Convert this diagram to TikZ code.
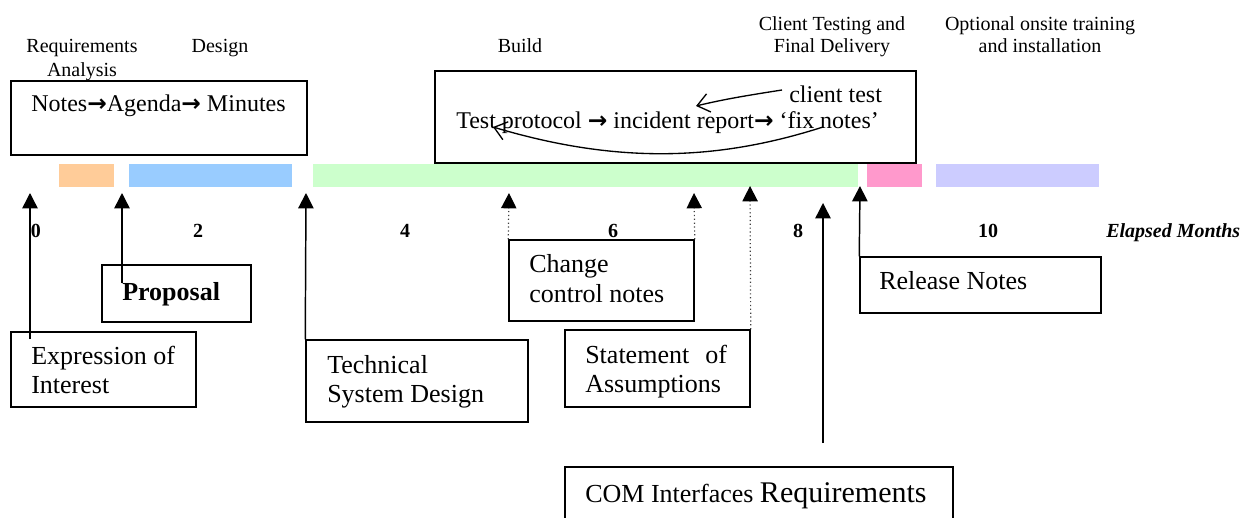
\documentclass[tikz,border=0pt]{standalone}
\usepackage{fontspec}
\setmainfont{Liberation Serif}
\newfontfamily\arrowfont{DejaVu Sans}
\usetikzlibrary{arrows.meta,fit}
\definecolor{cReq}{HTML}{FFCC99}
\definecolor{cDes}{HTML}{99CCFF}
\definecolor{cBld}{HTML}{CCFFCC}
\definecolor{cCli}{HTML}{FF99CC}
\definecolor{cOpt}{HTML}{CCCCFF}
\newcommand{\fsz}[2]{\fontsize{#1}{#2}\selectfont}
\newcommand{\rarr}{{\arrowfont\bfseries\fsz{17.5}{20}→}}
\begin{document}
\begin{tikzpicture}[x=0.75pt,y=-0.75pt,
  box/.style={draw,line width=1.1pt,inner sep=0pt},
  txt/.style={inner sep=0pt,anchor=base west,font=\fsz{19.5}{22.5}},
  btxt/.style={inner sep=0pt,anchor=base west,font=\fsz{18}{21}},
  phase/.style={inner sep=0pt,anchor=base,font=\fsz{15}{17}},
  num/.style={inner sep=0pt,anchor=base,font=\bfseries\fsz{15}{17}},
  up/.style={-{Triangle[length=11.5pt,width=11.5pt]},line width=1.1pt},
  dotup/.style={-{Triangle[length=11.5pt,width=11.5pt,color=black]},line width=0.9pt,dotted,black!75},
  curv/.style={-{Straight Barb[length=9pt,width=14pt]},line width=1pt}]
\useasboundingbox (0,0) rectangle (1244,517);
\fill[white] (0,0) rectangle (1244,517);

% phase labels
\node[phase] (req1) at (82,53) {Requirements};
\node[phase] (req2) at (82,76) {Analysis};
\node[phase] (des) at (220,53) {Design};
\node[phase] (bld) at (520,53) {Build};
\node[phase] (cli1) at (832,31) {Client Testing and};
\node[phase] (cli2) at (832,53) {Final Delivery};
\node[phase] (opt1) at (1040,31) {Optional onsite training};
\node[phase] (opt2) at (1040,53) {and installation};

% top boxes
\node[box,fit={(11,81)(307,155)}] (meet) {};
\node[btxt] (meetT) at (31,111) {Notes\rarr Agenda\rarr\ Minutes};
\node[box,fit={(435,71)(916,163)}] (test) {};
\node[btxt] (testT) at (456,128) {Test protocol \rarr\ incident report\rarr\ ‘fix notes’};
\node[btxt] (ct) at (789,102) {client test};
\coordinate (c1s) at (782,90);
\coordinate (c1e) at (696,106);
\draw[curv] (c1s) .. controls (750,95) and (725,99) .. (c1e);
\coordinate (c2s) at (823,127);
\coordinate (c2e) at (493,127);
\draw[curv] (c2s) .. controls (720,160) and (620,165) .. (c2e);

% phase bars
\fill[cReq] (59,164) rectangle (114,187);
\fill[cDes] (129,164) rectangle (292,187);
\fill[cBld] (313,164) rectangle (858,187);
\fill[cCli] (867,164) rectangle (922,187);
\fill[cOpt] (936,164) rectangle (1099,187);

% months
\node[num] (m0) at (36,237) {0};
\node[num] (m2) at (198,237) {2};
\node[num] (m4) at (405,237) {4};
\node[num] (m6) at (613,237) {6};
\node[num] (m8) at (798,237) {8};
\node[num] (m10) at (988,237) {10};
\node[inner sep=0pt,anchor=base west,font=\bfseries\itshape\fsz{15}{17}] (em) at (1106,237) {Elapsed Months};

% document boxes
\node[box,fit={(11,332)(196,407)}] (eoi) {};
\node[txt] (eoi1) at (31,364) {Expression of};
\node[txt] (eoi2) at (31,393) {Interest};

\node[box,fit={(102,265)(251,322)}] (prop) {};
\node[txt,font=\bfseries\fsz{19.5}{22.5}] (propT) at (122,300) {Proposal};

\node[box,fit={(306,340)(528,422)}] (tsd) {};
\node[txt] (tsd1) at (327,373) {Technical};
\node[txt] (tsd2) at (327,402) {System Design};

\node[box,fit={(509,240)(694,321)}] (ccn) {};
\node[txt] (ccn1) at (529,272) {Change};
\node[txt] (ccn2) at (529,302) {control notes};

\node[box,fit={(565,330)(750,407)}] (soa) {};
\node[txt] (soa1) at (585,363) {Statement\hspace{12pt}of};
\node[txt] (soa2) at (585,392) {Assumptions};

\node[box,fit={(565,467)(953,540)}] (com) {};
\node[txt] (comT) at (585,502) {COM Interfaces {\fsz{22.5}{25}Requirements}};

\node[box,fit={(860,257)(1101,313)}] (rn) {};
\node[txt] (rnT) at (879,289) {Release Notes};

% arrows
\coordinate (eoiS) at (30,339);
\coordinate (eoiE) at (30,193);
\draw[up] (eoiS) -- (eoiE);
\coordinate (propS) at (122,283);
\coordinate (propE) at (122,193);
\draw[up] (propS) -- (propE);
\coordinate (tsdE) at (306,193);
\draw[up] (tsd.north west) -- (tsdE);
\coordinate (ccnE1) at (509,193);
\coordinate (ccnE2) at (694,193);
\draw[dotup] (ccn.north west) -- (ccnE1);
\draw[dotup] (ccn.north east) -- (ccnE2);
\coordinate (soaE) at (750,186);
\draw[dotup] (soa.north east) -- (soaE);
\coordinate (comS) at (823,443);
\coordinate (comE) at (823,203);
\draw[up] (comS) -- (comE);
\coordinate (rnE) at (860,186);
\draw[up] (rn.north west) -- (rnE);
\end{tikzpicture}
\end{document}
